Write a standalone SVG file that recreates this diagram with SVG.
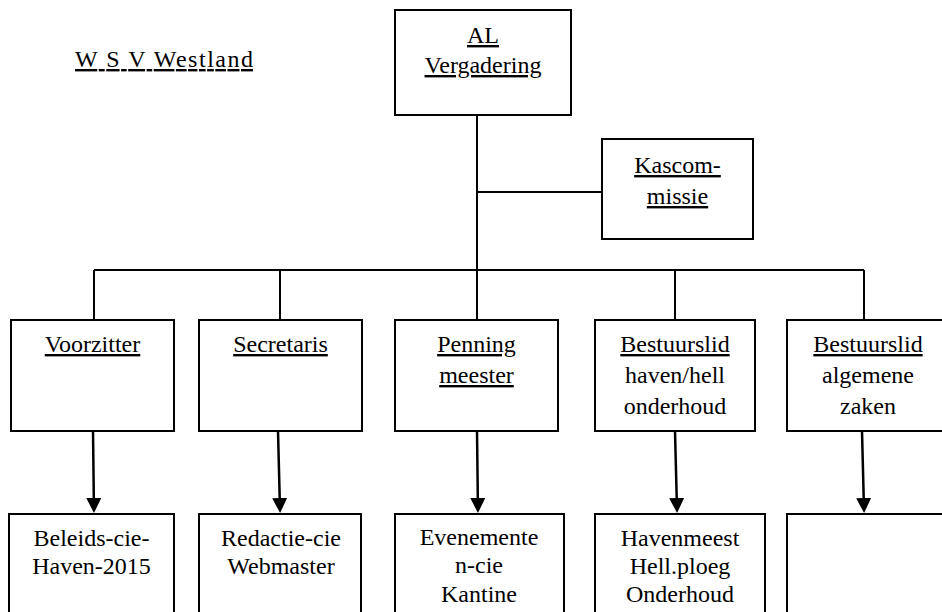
<svg xmlns="http://www.w3.org/2000/svg" width="942" height="612" viewBox="0 0 942 612" font-family="'Liberation Serif', 'Times New Roman', 'DejaVu Serif', serif" font-size="24">
<style>
.box{fill:#fff;stroke:#000;stroke-width:2}
.ln{fill:none;stroke:#000;stroke-width:2}
.ar{fill:none;stroke:#000;stroke-width:2.5}
text{fill:#000;text-anchor:middle}
.u{text-decoration:underline}
</style>
<defs>
<marker id="ah" markerUnits="userSpaceOnUse" markerWidth="16" markerHeight="16" refX="0" refY="7.5" orient="auto">
<path d="M0,0 L15,7.5 L0,15 z" fill="#000"/>
</marker>
</defs>
<rect width="942" height="612" fill="#fff"/>
<g id="title"><text x="75" y="67" class="u" style="text-anchor:start" textLength="178" lengthAdjust="spacing">W S V Westland</text></g>
<g id="connectors">
<path class="ln" d="M477,115 V320 M477,192 H602 M94,270 H864 M94,270 V320 M280,270 V320 M675,270 V320 M864,270 V320"/>
<path class="ar" marker-end="url(#ah)" d="M93,431 L93.8,498"/>
<path class="ar" marker-end="url(#ah)" d="M278,431 L279.7,498"/>
<path class="ar" marker-end="url(#ah)" d="M477,431 L477.8,498"/>
<path class="ar" marker-end="url(#ah)" d="M675,431 L676.7,498"/>
<path class="ar" marker-end="url(#ah)" d="M862,431 L863.7,498"/>
</g>
<g id="al"><rect class="box" x="395" y="10" width="176" height="105"/><text x="483" y="43" class="u">AL</text><text x="483" y="73" class="u">Vergadering</text></g>
<g id="kascommissie"><rect class="box" x="602" y="139" width="151" height="100"/><text x="677.5" y="173" class="u">Kascom-</text><text x="677.5" y="204" class="u">missie</text></g>
<g id="voorzitter"><rect class="box" x="11" y="320" width="163" height="111"/><text x="92.5" y="352" class="u">Voorzitter</text></g>
<g id="secretaris"><rect class="box" x="199" y="320" width="163" height="111"/><text x="280.5" y="352" class="u">Secretaris</text></g>
<g id="penningmeester"><rect class="box" x="395" y="320" width="163" height="111"/><text x="476.5" y="352" class="u">Penning</text><text x="476.5" y="383" class="u">meester</text></g>
<g id="bestuurslid-haven"><rect class="box" x="595" y="320" width="160" height="111"/><text x="675" y="352" class="u">Bestuurslid</text><text x="675" y="383">haven/hell</text><text x="675" y="414">onderhoud</text></g>
<g id="bestuurslid-algemeen"><rect class="box" x="787" y="320" width="165" height="111"/><text x="868" y="352" class="u">Bestuurslid</text><text x="868" y="383">algemene</text><text x="868" y="414">zaken</text></g>
<g id="beleids"><rect class="box" x="9" y="514" width="165" height="110"/><text x="91.5" y="546">Beleids-cie-</text><text x="91.5" y="574">Haven-2015</text></g>
<g id="redactie"><rect class="box" x="199" y="514" width="162" height="110"/><text x="281" y="546">Redactie-cie</text><text x="281" y="574">Webmaster</text></g>
<g id="evenementen"><rect class="box" x="395" y="514" width="169" height="110"/><text x="479" y="545">Evenemente</text><text x="479" y="573">n-cie</text><text x="479" y="602">Kantine</text></g>
<g id="havenmeester"><rect class="box" x="595" y="514" width="170" height="110"/><text x="680" y="546">Havenmeest</text><text x="680" y="574">Hell.ploeg</text><text x="680" y="602">Onderhoud</text></g>
<g id="leeg"><rect class="box" x="787" y="514" width="165" height="110"/></g>
</svg>
